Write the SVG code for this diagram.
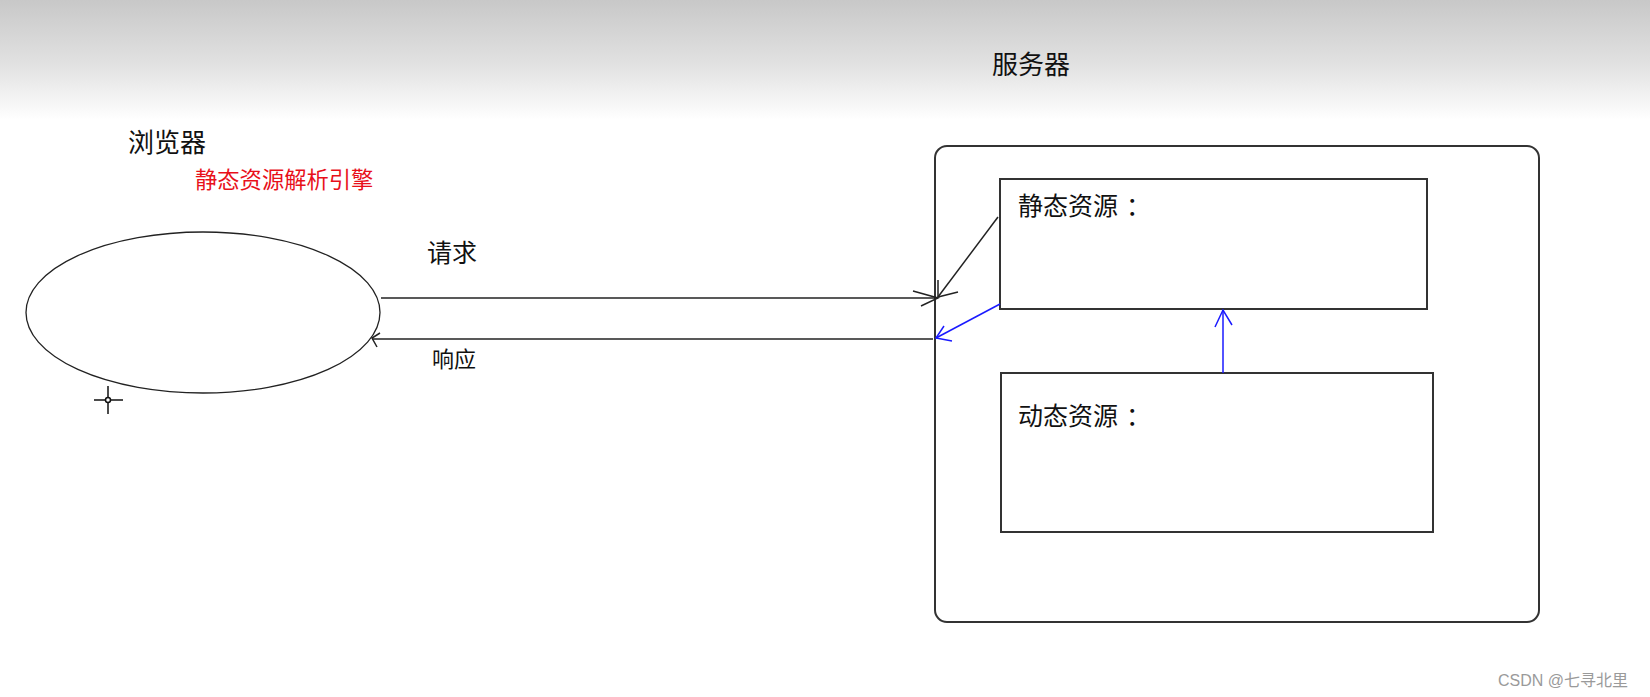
<svg xmlns="http://www.w3.org/2000/svg" width="1650" height="697" viewBox="0 0 1650 697">
<defs>
<linearGradient id="topfade" x1="0" y1="0" x2="0" y2="1">
<stop offset="0" stop-color="#c8c8c8"/>
<stop offset="0.55" stop-color="#e2e2e2"/>
<stop offset="1" stop-color="#ffffff"/>
</linearGradient>
<style>
.t{font-family:"Noto Sans CJK SC","Noto Sans",sans-serif;fill:#111}
.box{fill:#fff;stroke:#333;stroke-width:2}
.ln{fill:none;stroke:#222;stroke-width:1.5}
.bl{fill:none;stroke:#1a1aff;stroke-width:1.5}
</style>
</defs>
<rect width="1650" height="697" fill="#ffffff"/>
<rect width="1650" height="120" fill="url(#topfade)"/>

<g id="server">
<rect class="box" x="935" y="146" width="604" height="476" rx="12"/>
<text class="t" x="992" y="74" font-size="26">服务器</text>
</g>

<g id="browser">
<text class="t" x="128" y="152" font-size="26">浏览器</text>
<text class="t" x="195" y="188" font-size="22.3" style="fill:#e8101a">静态资源解析引擎</text>
<ellipse cx="203" cy="312.5" rx="177" ry="80.5" fill="#fff" stroke="#222" stroke-width="1.3"/>
</g>

<g id="static">
<rect class="box" x="1000" y="179" width="427" height="130"/>
<text class="t" x="1018" y="215" font-size="25">静态资源<tspan dx="8">：</tspan></text>
</g>

<g id="dynamic">
<rect class="box" x="1001" y="373" width="432" height="159"/>
<text class="t" x="1018" y="425" font-size="25">动态资源<tspan dx="8">：</tspan></text>
</g>

<g id="cursor" stroke="#111" stroke-width="1.5" fill="none">
<line x1="94" y1="400" x2="123" y2="400"/>
<line x1="108" y1="386" x2="108" y2="414"/>
<circle cx="108" cy="400" r="2.5" fill="#fff"/>
</g>

<g id="connectors">
<line class="ln" x1="381" y1="298" x2="938" y2="298"/>
<polyline class="ln" points="913,291 938,298 921,306"/>
<line class="ln" x1="998" y1="217" x2="938" y2="297"/>
<polyline class="ln" points="938,280 938,297 958,292"/>
<line class="ln" x1="933" y1="339" x2="372" y2="339"/>
<polyline class="ln" points="380,333 372,338 377,347"/>
<text class="t" x="427" y="262" font-size="25">请求</text>
<text class="t" x="432" y="367" font-size="22">响应</text>
<line class="bl" x1="1000" y1="304" x2="936" y2="338"/>
<polyline class="bl" points="944,326 936,338 952,341"/>
<line class="bl" x1="1223" y1="373" x2="1223" y2="310"/>
<polyline class="bl" points="1215,327 1223,310 1232,325"/>
</g>

<text x="1498" y="686" font-family="'Liberation Sans','Noto Sans CJK SC',sans-serif" font-size="16" fill="#9a9a9a">CSDN @七寻北里</text>
</svg>
